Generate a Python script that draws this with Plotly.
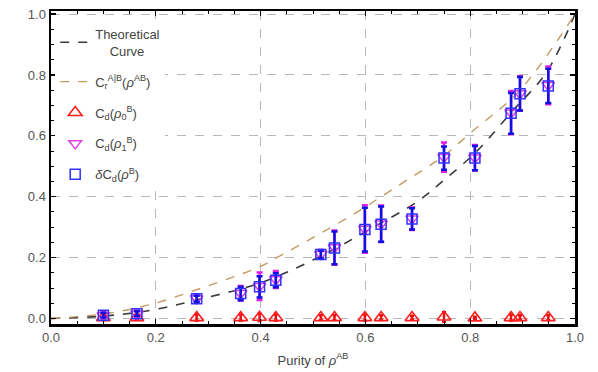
import plotly.graph_objects as go

# ---- data ----
purity = [0.100, 0.164, 0.278, 0.362, 0.398, 0.429, 0.515, 0.541, 0.599, 0.630,
          0.689, 0.750, 0.809, 0.878, 0.895, 0.949]
delta_cd = [0.011, 0.016, 0.065, 0.082, 0.104, 0.126, 0.210, 0.232, 0.292, 0.310,
            0.327, 0.527, 0.527, 0.674, 0.738, 0.764]
delta_err = [0.008, 0.008, 0.010, 0.022, 0.035, 0.023, 0.013, 0.054, 0.072, 0.058,
             0.035, 0.038, 0.040, 0.067, 0.055, 0.056]
cd1 = [0.011, 0.016, 0.066, 0.083, 0.106, 0.128, 0.211, 0.233, 0.294, 0.311,
       0.328, 0.530, 0.528, 0.676, 0.739, 0.766]
cd1_err = [0.010, 0.010, 0.014, 0.024, 0.045, 0.028, 0.015, 0.056, 0.078, 0.060,
           0.037, 0.048, 0.042, 0.071, 0.057, 0.062]
cd0 = [0.003, 0.003, 0.003, 0.003, 0.004, 0.003, 0.003, 0.003, 0.003, 0.003,
       0.003, 0.005, 0.002, 0.003, 0.003, 0.003]
cd0_err = [0.008, 0.008, 0.010, 0.010, 0.012, 0.010, 0.008, 0.008, 0.010, 0.008,
           0.006, 0.016, 0.004, 0.010, 0.008, 0.008]

theory_x = [0.0, 0.10, 0.19, 0.28, 0.40, 0.515, 0.60, 0.70, 0.75, 0.81, 0.88, 0.946, 1.0]
theory_y = [0.0, 0.008, 0.027, 0.062, 0.117, 0.205, 0.285, 0.385, 0.455, 0.545, 0.680, 0.810, 1.0]

cr_x = [0.0, 0.10, 0.19, 0.27, 0.40, 0.43, 0.57, 0.666, 0.75, 0.80, 0.895, 1.0]
cr_y = [0.0, 0.015, 0.046, 0.090, 0.171, 0.199, 0.335, 0.440, 0.535, 0.609, 0.750, 1.0]

x_ticks = [0.0, 0.2, 0.4, 0.6, 0.8, 1.0]
y_ticks = [0.0, 0.2, 0.4, 0.6, 0.8, 1.0]
x_tick_text = ["0.0", "0.2", "0.4", "0.6", "0.8", "1.0"]
y_tick_text = ["0.0", "0.2", "0.4", "0.6", "0.8", "1.0"]

FONT = "Liberation Sans, Arial, sans-serif"

fig = go.Figure()

fig.add_trace(go.Scatter(
    x=theory_x, y=theory_y, mode="lines", line_shape="spline",
    line=dict(color="#3a3a3a", width=1.6, dash="dash"),
    name="Theoretical<br>\u00a0\u00a0\u00a0\u00a0Curve", legendgroup="g1"))

fig.add_trace(go.Scatter(
    x=cr_x, y=cr_y, mode="lines", line_shape="spline",
    line=dict(color="#c49a62", width=1.4, dash="dash"),
    name="C<sub>r</sub><sup>A|B</sup>(<i>ρ</i><sup>AB</sup>)", legendgroup="g2"))

fig.add_trace(go.Scatter(
    x=purity, y=cd0, mode="markers", cliponaxis=False,
    marker=dict(symbol="triangle-up-open", size=12, color="#ff2020", line=dict(width=1.6)),
    error_y=dict(type="data", array=cd0_err, color="#ee1010", thickness=2.5, width=2),
    name="C<sub>d</sub>(<i>ρ</i><sub>0</sub><sup>B</sup>)", legendgroup="g3"))

fig.add_trace(go.Scatter(
    x=purity, y=cd1, mode="markers",
    marker=dict(symbol="triangle-down-open", size=11, color="#e040e0", line=dict(width=1.5)),
    error_y=dict(type="data", array=cd1_err, color="#e020e0", thickness=2.5, width=3),
    name="C<sub>d</sub>(<i>ρ</i><sub>1</sub><sup>B</sup>)", legendgroup="g4"))

fig.add_trace(go.Scatter(
    x=purity, y=delta_cd, mode="markers",
    marker=dict(symbol="square-open", size=10, color="#3030ff", line=dict(width=1.5)),
    error_y=dict(type="data", array=delta_err, color="#1010e0", thickness=2.5, width=3),
    name="<i>δ</i>C<sub>d</sub>(<i>ρ</i><sup>B</sup>)", legendgroup="g5"))

axis_common = dict(
    showline=True, linecolor="black", linewidth=2.5, mirror="ticks",
    ticks="inside", ticklen=5, tickwidth=1.2, tickcolor="black",
    showgrid=True, gridcolor="#b8b8b8", griddash="dash", gridwidth=1,
    zeroline=False,
    tickfont=dict(family=FONT, size=13, color="#555555"),
    minor=dict(ticks="inside", ticklen=3, tickwidth=1, tickcolor="black",
               dtick=0.05, showgrid=False),
)

fig.update_xaxes(range=[0, 1], tickvals=x_ticks, ticktext=x_tick_text,
                 title=dict(text="Purity of <i>ρ</i><sup>AB</sup>",
                            font=dict(family=FONT, size=13, color="#444444"),
                            standoff=12),
                 **axis_common)
fig.update_yaxes(range=[-0.018, 1.01], tickvals=y_ticks, ticktext=y_tick_text,
                 **axis_common)

fig.update_layout(
    width=598, height=372,
    margin=dict(l=51, r=23, t=11, b=48, autoexpand=False),
    plot_bgcolor="white", paper_bgcolor="white",
    font=dict(family=FONT, size=13, color="#444444"),
    showlegend=True,
    hovermode=False,
    legend=dict(x=0.008, y=0.975, xanchor="left", yanchor="top",
                bgcolor="white", borderwidth=0, tracegroupgap=11,
                font=dict(family=FONT, size=13, color="#444444")),
)

fig.write_html("out.html",
               config={"displayModeBar": False, "staticPlot": True},
               post_script="document.body.style.margin='0';document.body.style.overflow='hidden';")
